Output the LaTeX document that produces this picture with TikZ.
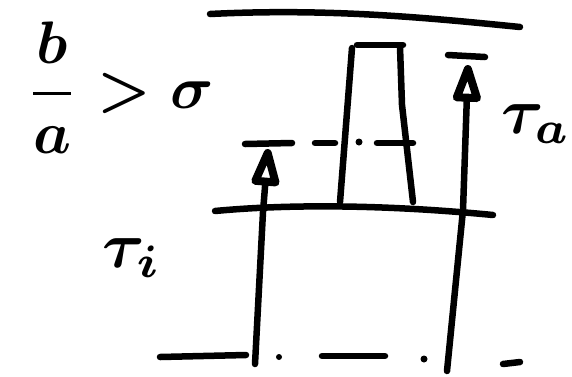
\documentclass[tikz,border=0pt]{standalone}
\usepackage{amsmath}
\usetikzlibrary{arrows.meta}
\definecolor{ink}{HTML}{000000}
\tikzset{
  % --- strokes
  pen/.style  = {line width=6.5pt, line cap=round, line join=round, draw=ink},
  tipup/.style= {-{Triangle[open,round,length=46pt,width=29pt,line width=8pt]}},
  dot/.style  = {fill=ink},
  % --- labels
  lbl/.style  = {text=ink, inner sep=0pt, font=\boldmath},
}
\begin{document}
\begin{tikzpicture}[x=1pt,y=-1pt]
  \useasboundingbox (0,0) rectangle (572,376);
  % outer lines
  \draw[pen] (210,14) .. controls (330,8) and (430,18) .. (520,27);
  \draw[pen] (215,211) .. controls (300,203) and (400,206) .. (493,215);
  % base line, broken by hand
  \draw[pen] (160,357) -- (246,355);
  \fill[dot] (279,357) circle (3pt);
  \draw[pen] (322,356) -- (385,356);
  \fill[dot] (424,359) circle (3.5pt);
  \draw[pen] (503,364) -- (520,362);
  % level line
  \draw[pen] (245,144) -- (292,143);
  \draw[pen] (315,143) -- (335,143);
  \fill[dot] (359,142) circle (3.5pt);
  \draw[pen] (377,143) -- (413,143);
  % pillar
  \draw[pen] (340,202) -- (352,48);
  \draw[pen] (357,45) -- (403,45);
  \draw[pen] (400,47) -- (402,105) -- (413,202);
  % arrows
  \coordinate (ib) at (255,364);
  \coordinate (im) at (263,212);
  \coordinate (it) at (268,149);
  \draw[pen,tipup] (ib) -- (im) -- (it);
  \coordinate (ab) at (447,371);
  \coordinate (am) at (463,210);
  \coordinate (at) at (468,65);
  \draw[pen,tipup] (ab) -- (am) -- (at);
  \draw[pen] (448,55) -- (485,57);
  % labels
  \node[lbl,scale=6] (ratio) at (120,88) {$\displaystyle\frac{b}{a}>\sigma$};
  \node[lbl,scale=6.5] (taui) at (132,258) {$\tau_i$};
  \node[lbl,scale=6.5] (taua) at (536,124) {$\tau_a$};
\end{tikzpicture}
\end{document}
